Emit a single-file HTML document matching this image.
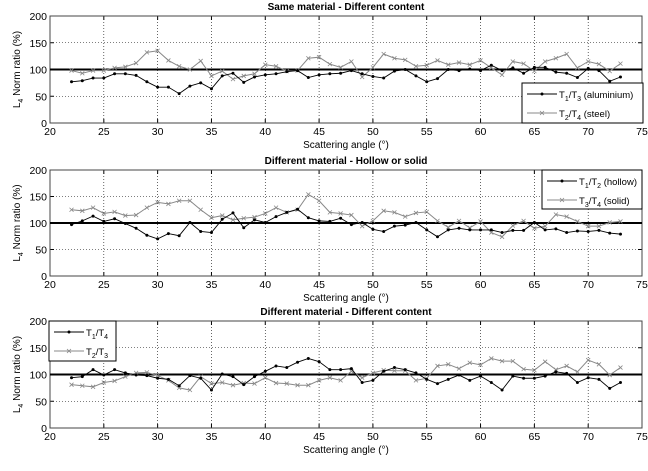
<!DOCTYPE html>
<html><head><meta charset="utf-8"><style>
html,body{margin:0;padding:0;background:#fff}
svg{display:block;font-family:"Liberation Sans",sans-serif}
</style></head><body>
<svg id="c" width="648" height="471" viewBox="0 0 648 471" xmlns="http://www.w3.org/2000/svg"></svg>
<script>
const angles=[22,23,24,25,26,27,28,29,30,31,32,33,34,35,36,37,38,39,40,41,42,43,44,45,46,47,48,49,50,51,52,53,54,55,56,57,58,59,60,61,62,63,64,65,66,67,68,69,70,71,72,73];
const xTicks=[20,25,30,35,40,45,50,55,60,65,70,75];
const yTicks=[0,50,100,150,200];
const p1a=[77,79,84,84,92,92,89,77,67,67,55,69,75,64,88,93,76,86,90,92,96,98,85,90,92,93,98,92,87,84,97,100,88,77,83,100,98,101,98,108,98,103,93,104,104,95,93,85,102,98,78,86];
const p1b=[98,93,98,98,103,105,112,132,135,117,106,100,116,88,97,82,88,92,109,106,97,98,121,123,110,104,115,86,104,129,121,118,106,108,117,109,113,109,117,103,90,115,111,97,115,121,129,103,115,110,97,111];
const p2a=[97,104,113,103,108,99,90,77,70,80,76,101,84,82,107,119,91,106,101,112,120,126,110,104,103,109,97,101,88,84,94,96,101,87,74,87,90,87,87,87,82,86,86,101,87,89,82,85,84,86,81,79];
const p2b=[125,123,129,118,121,114,115,129,139,136,142,142,125,110,114,106,109,111,118,129,120,125,154,142,120,118,115,94,104,123,120,112,119,121,104,92,104,91,103,82,74,95,104,90,94,116,112,103,94,94,101,103];
const p3a=[94,96,109,99,109,103,99,98,93,91,79,98,93,71,101,96,81,96,106,116,113,123,130,124,109,109,111,85,89,106,113,109,103,91,83,91,99,89,97,85,71,97,93,93,97,105,102,85,94,91,74,85];
const p3b=[81,79,77,85,88,96,103,104,98,89,75,71,96,83,85,80,84,83,94,84,83,80,80,89,94,89,106,94,103,108,107,107,89,93,116,119,111,122,118,130,125,125,110,108,124,109,116,105,127,119,99,113];
const titles=["Same material - Different content","Different material - Hollow or solid","Different material - Different content"];
const legA=[["T","1","3"," (aluminium)"],["T","1","2"," (hollow)"],["T","1","4",""]];
const legB=[["T","2","4"," (steel)"],["T","3","4"," (solid)"],["T","2","3",""]];
const NS="http://www.w3.org/2000/svg";
const svg=document.getElementById('c');
function el(t,a,p){const e=document.createElementNS(NS,t);for(const k in a)e.setAttribute(k,a[k]);(p||svg).appendChild(e);return e;}
const L=50,R=642;
const panels=[{top:16,bot:123,a:p1a,b:p1b,leg:[522,83,121,40]},{top:170,bot:276,a:p2a,b:p2b,leg:[542,170,100,39]},{top:321,bot:428,a:p3a,b:p3b,leg:[49,321,67,40]}];
const xs=v=>L+(v-20)/55*(R-L);
panels.forEach((P,i)=>{
  const ys=v=>P.bot-v/200*(P.bot-P.top);
  const g=el('g',{});
  
  
  const t=el('text',{x:(L+R)/2,y:P.top-6,'text-anchor':'middle','font-size':10,'font-weight':'bold'},g);
  t.textContent=titles[i];
  
  xTicks.forEach(v=>{if(v>20&&v<75)el('line',{x1:xs(v),x2:xs(v),y1:P.top,y2:P.bot,stroke:'#000','stroke-width':0.6,'stroke-dasharray':'1,2'},g);
    const tl=el('text',{x:xs(v),y:P.bot+12,'text-anchor':'middle','font-size':10.5},g);tl.textContent=v;
    
    el('line',{x1:xs(v),x2:xs(v),y1:P.bot,y2:P.bot-4,stroke:'#000'},g);el('line',{x1:xs(v),x2:xs(v),y1:P.top,y2:P.top+4,stroke:'#000'},g);});
  yTicks.forEach(v=>{if(v>0&&v<200)el('line',{x1:L,x2:R,y1:ys(v),y2:ys(v),stroke:'#000','stroke-width':0.6,'stroke-dasharray':'1,2'},g);
    const tl=el('text',{x:L-3,y:ys(v)+4,'text-anchor':'end','font-size':10.5},g);tl.textContent=v;
    
    el('line',{x1:L,x2:L+4,y1:ys(v),y2:ys(v),stroke:'#000'},g);el('line',{x1:R,x2:R-4,y1:ys(v),y2:ys(v),stroke:'#000'},g);});
  const fr=el('rect',{x:L,y:P.top,width:R-L,height:P.bot-P.top,fill:'none',stroke:'#444'},g);
  
  const xl=el('text',{x:(L+R)/2,y:P.bot+25,'text-anchor':'middle','font-size':10},g);xl.textContent='Scattering angle (°)';
  
  const yl=el('text',{transform:`translate(20,${(P.top+P.bot)/2}) rotate(-90)`,'text-anchor':'middle','font-size':10},g);
  yl.innerHTML='L<tspan font-size="7" dy="3">4</tspan><tspan dy="-3"> Norm ratio (%)</tspan>';
  
  const ref=el('line',{x1:L,x2:R,y1:ys(100),y2:ys(100),stroke:'#000','stroke-width':2},g);
  
  const drawB=(gg,x,y)=>{el('path',{d:`M${x-2},${y-2}L${x+2},${y+2}M${x-2},${y+2}L${x+2},${y-2}`,stroke:'#888','stroke-width':0.8,fill:'none'},gg);};
  const drawA=(gg,x,y)=>{el('circle',{cx:x,cy:y,r:1.5,fill:'#000'},gg);};
  const sb=el('g',{},g);
  el('polyline',{points:angles.map((a,k)=>xs(a)+','+ys(P.b[k])).join(' '),fill:'none',stroke:'#888','stroke-width':1},sb);
  angles.forEach((a,k)=>drawB(sb,xs(a),ys(P.b[k])));
  const sa=el('g',{},g);
  el('polyline',{points:angles.map((a,k)=>xs(a)+','+ys(P.a[k])).join(' '),fill:'none',stroke:'#000','stroke-width':0.9},sa);
  angles.forEach((a,k)=>drawA(sa,xs(a),ys(P.a[k])));
  const [lx,ly,lw,lh]=P.leg;
  const lg=el('g',{},g);
  el('rect',{x:lx,y:ly,width:lw,height:lh,fill:'#fff',stroke:'#000'},lg);
  [[legA[i],'#000',drawA],[legB[i],'#888',drawB]].forEach(([lab,col,fn],j)=>{
    const yy=ly+11+j*19;
    el('line',{x1:lx+5,x2:lx+35,y1:yy,y2:yy,stroke:col},lg);fn(lg,lx+20,yy);
    const tx=el('text',{x:lx+37,y:yy+4,'font-size':9.5},lg);
    tx.innerHTML=`${lab[0]}<tspan font-size="7" dy="3">${lab[1]}</tspan><tspan dy="-3">/${lab[0]}</tspan><tspan font-size="7" dy="3">${lab[2]}</tspan><tspan dy="-3">${lab[3]}</tspan>`;
    
  });
});
</script>
</body></html>
